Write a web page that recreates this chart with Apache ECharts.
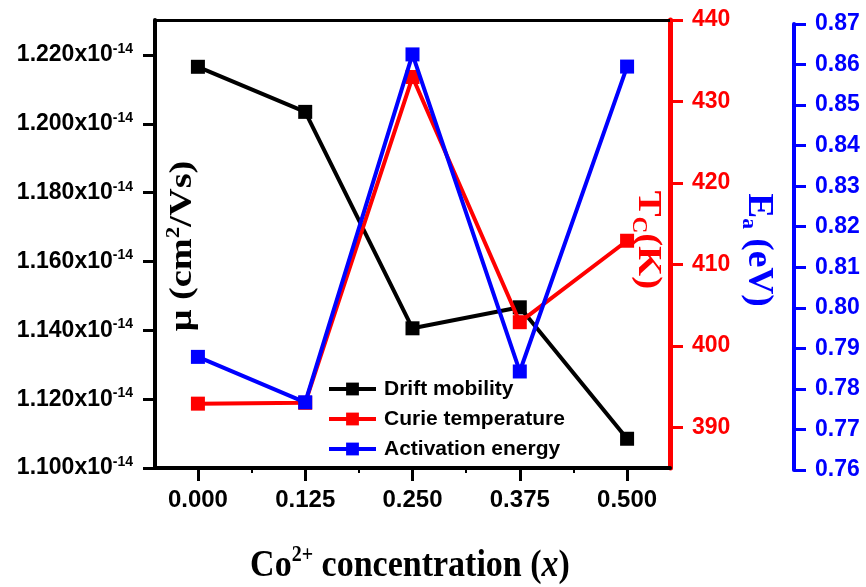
<!DOCTYPE html>
<html>
<head>
<meta charset="utf-8">
<title>Drift mobility, Curie temperature and activation energy vs Co2+ concentration</title>
<script src="https://cdn.jsdelivr.net/npm/echarts@6/dist/echarts.min.js"></script>
<style>
  html, body { margin: 0; padding: 0; background: #ffffff; }
  #chart { width: 866px; height: 587px; }
</style>
</head>
<body>
<div id="chart"></div>
<script>
// Co2+ concentration x
var concentration = [0.000, 0.125, 0.250, 0.375, 0.500];
// Drift mobility, in units of 1e-14 cm^2/Vs
var driftMobility = [1.2166, 1.2035, 1.1406, 1.1467, 1.1085];
// Curie temperature Tc (K)
var curieTemp = [392.9, 393.0, 433.0, 402.9, 412.9];
// Activation energy Ea (eV)
var activationEnergy = [0.7879, 0.7767, 0.8625, 0.7843, 0.8595];

// Tick values for each axis
var xTicks = [0.000, 0.125, 0.250, 0.375, 0.500];
var xMinorTicks = [0.0625, 0.1875, 0.3125, 0.4375];
var mobilityTicks = [1.10, 1.12, 1.14, 1.16, 1.18, 1.20, 1.22];
var curieTicks = [390, 400, 410, 420, 430, 440];
var energyTicks = [0.76, 0.77, 0.78, 0.79, 0.80, 0.81, 0.82, 0.83, 0.84, 0.85, 0.86, 0.87];

var seriesNames = ['Drift mobility', 'Curie temperature', 'Activation energy'];

function pairs(xs, ys) {
  return xs.map(function (x, i) { return [x, ys[i]]; });
}

var SANS = '"Liberation Sans", Arial, sans-serif';
var SERIF = '"Liberation Serif", "Times New Roman", serif';
var RED = '#ff0000';
var BLUE = '#0000ff';

var chart = echarts.init(document.getElementById('chart'), null, { renderer: 'canvas' });

var option = {
  backgroundColor: '#ffffff',
  animation: false,
  grid: [
    { left: 155, right: 196, top: 20, bottom: 119 },
    { left: 155, right: 196, top: 24, bottom: 117 }
  ],
  xAxis: [
    {
      gridIndex: 0, type: 'value', position: 'bottom', min: -0.05, max: 0.55,
      axisLine: { onZero: false, lineStyle: { color: '#000', width: 4 } },
      axisTick: { customValues: xTicks, length: 13, lineStyle: { color: '#000', width: 3 } },
      axisLabel: {
        customValues: xTicks, margin: 20,
        formatter: function (v) { return v.toFixed(3); },
        color: '#000', fontFamily: SANS, fontWeight: 'bold', fontSize: 24
      },
      splitLine: { show: false }
    },
    {
      gridIndex: 0, type: 'value', position: 'top', min: -0.05, max: 0.55,
      axisLine: { onZero: false, lineStyle: { color: '#000', width: 3 } },
      axisTick: { show: false }, axisLabel: { show: false }, splitLine: { show: false }
    },
    {
      gridIndex: 0, type: 'value', position: 'bottom', min: -0.05, max: 0.55,
      axisLine: { show: false, onZero: false },
      axisTick: { customValues: xMinorTicks, length: 5, lineStyle: { color: '#000', width: 2 } },
      axisLabel: { show: false }, splitLine: { show: false }
    },
    {
      gridIndex: 1, type: 'value', min: -0.05, max: 0.55, show: false,
      axisLine: { onZero: false }
    }
  ],
  yAxis: [
    {
      gridIndex: 0, type: 'value', position: 'left', min: 1.10, max: 1.2302,
      axisLine: { show: true, onZero: false, lineStyle: { color: '#000', width: 4 } },
      axisTick: { show: true, customValues: mobilityTicks, length: 12, lineStyle: { color: '#000', width: 3 } },
      axisLabel: {
        customValues: mobilityTicks, margin: 22,
        formatter: function (v) { return '{a|' + v.toFixed(3) + 'x10}{s|-14}'; },
        rich: {
          a: { fontFamily: SANS, fontWeight: 'bold', fontSize: 23, color: '#000', lineHeight: 26 },
          s: { fontFamily: SANS, fontWeight: 'bold', fontSize: 14, color: '#000', lineHeight: 14, verticalAlign: 'top' }
        }
      },
      splitLine: { show: false }
    },
    {
      gridIndex: 0, type: 'value', position: 'right', min: 385, max: 440,
      axisLine: { show: true, onZero: false, lineStyle: { color: RED, width: 5 } },
      axisTick: { show: true, customValues: curieTicks, length: 13, lineStyle: { color: RED, width: 3 } },
      axisLabel: {
        customValues: curieTicks, margin: 22,
        color: RED, fontFamily: SANS, fontWeight: 'bold', fontSize: 23
      },
      splitLine: { show: false }
    },
    {
      gridIndex: 1, type: 'value', position: 'right', offset: 124, min: 0.76, max: 0.87,
      axisLine: { show: true, onZero: false, lineStyle: { color: BLUE, width: 4 } },
      axisTick: { show: true, customValues: energyTicks, length: 12, lineStyle: { color: BLUE, width: 3 } },
      axisLabel: {
        customValues: energyTicks, margin: 21,
        formatter: function (v) { return v.toFixed(2); },
        color: BLUE, fontFamily: SANS, fontWeight: 'bold', fontSize: 23
      },
      splitLine: { show: false }
    }
  ],
  legend: {
    left: 327, top: 378, orient: 'vertical', padding: 0,
    itemWidth: 47, itemHeight: 16, itemGap: 8,
    data: seriesNames,
    lineStyle: { width: 4 },
    textStyle: { color: '#000', fontFamily: SANS, fontWeight: 'bold', fontSize: 21, lineHeight: 22, padding: [0, 0, 0, 3] }
  },
  series: [
    {
      name: seriesNames[0], type: 'line', xAxisIndex: 0, yAxisIndex: 0,
      data: pairs(concentration, driftMobility),
      symbol: 'rect', symbolSize: 14,
      lineStyle: { color: '#000', width: 4 },
      itemStyle: { color: '#000' },
      z: 2
    },
    {
      name: seriesNames[1], type: 'line', xAxisIndex: 0, yAxisIndex: 1,
      data: pairs(concentration, curieTemp),
      symbol: 'rect', symbolSize: 14,
      lineStyle: { color: RED, width: 4 },
      itemStyle: { color: RED },
      z: 3
    },
    {
      name: seriesNames[2], type: 'line', xAxisIndex: 3, yAxisIndex: 2,
      data: pairs(concentration, activationEnergy),
      symbol: 'rect', symbolSize: 14,
      lineStyle: { color: BLUE, width: 4 },
      itemStyle: { color: BLUE },
      z: 4
    }
  ],
  graphic: [
    {
      // left axis title: drift mobility
      type: 'text', x: 183, y: 246, rotation: Math.PI / 2, scaleX: 1.2, z: 10,
      style: {
        text: '{b|\u03bc (cm}{s|2}{b|/Vs)}',
        align: 'center', verticalAlign: 'middle',
        rich: {
          b: { fontFamily: SERIF, fontWeight: 'bold', fontSize: 32, fill: '#000', lineHeight: 36 },
          s: { fontFamily: SERIF, fontWeight: 'bold', fontSize: 19, fill: '#000', lineHeight: 19, verticalAlign: 'top' }
        }
      }
    },
    {
      // right axis title: Curie temperature
      type: 'text', x: 648, y: 240, rotation: -Math.PI / 2, scaleX: 1.14, z: 10,
      style: {
        text: '{b|T}{s|C}{b|(K)}',
        align: 'center', verticalAlign: 'middle',
        rich: {
          b: { fontFamily: SERIF, fontWeight: 'bold', fontSize: 34, fill: RED, lineHeight: 40 },
          s: { fontFamily: SERIF, fontWeight: 'bold', fontSize: 20, fill: RED, lineHeight: 20, verticalAlign: 'bottom' }
        }
      }
    },
    {
      // second right axis title: activation energy
      type: 'text', x: 758, y: 250, rotation: -Math.PI / 2, scaleX: 1.07, z: 10,
      style: {
        text: '{b|E}{s|a}{b| (eV)}',
        align: 'center', verticalAlign: 'middle',
        rich: {
          b: { fontFamily: SERIF, fontWeight: 'bold', fontSize: 35, fill: BLUE, lineHeight: 40 },
          s: { fontFamily: SERIF, fontWeight: 'bold', fontSize: 20, fill: BLUE, lineHeight: 20, verticalAlign: 'bottom' }
        }
      }
    },
    {
      // x axis title
      type: 'text', x: 410, y: 566, scaleY: 1.12, z: 10,
      style: {
        text: '{b|Co}{s|2+}{b| concentration (}{i|x}{b|)}',
        align: 'center', verticalAlign: 'middle',
        rich: {
          b: { fontFamily: SERIF, fontWeight: 'bold', fontSize: 34, fill: '#000', lineHeight: 40 },
          s: { fontFamily: SERIF, fontWeight: 'bold', fontSize: 20, fill: '#000', lineHeight: 20, verticalAlign: 'top' },
          i: { fontFamily: SERIF, fontWeight: 'bold', fontStyle: 'italic', fontSize: 34, fill: '#000', lineHeight: 40 }
        }
      }
    }
  ]
};

chart.setOption(option);
</script>
</body>
</html>
